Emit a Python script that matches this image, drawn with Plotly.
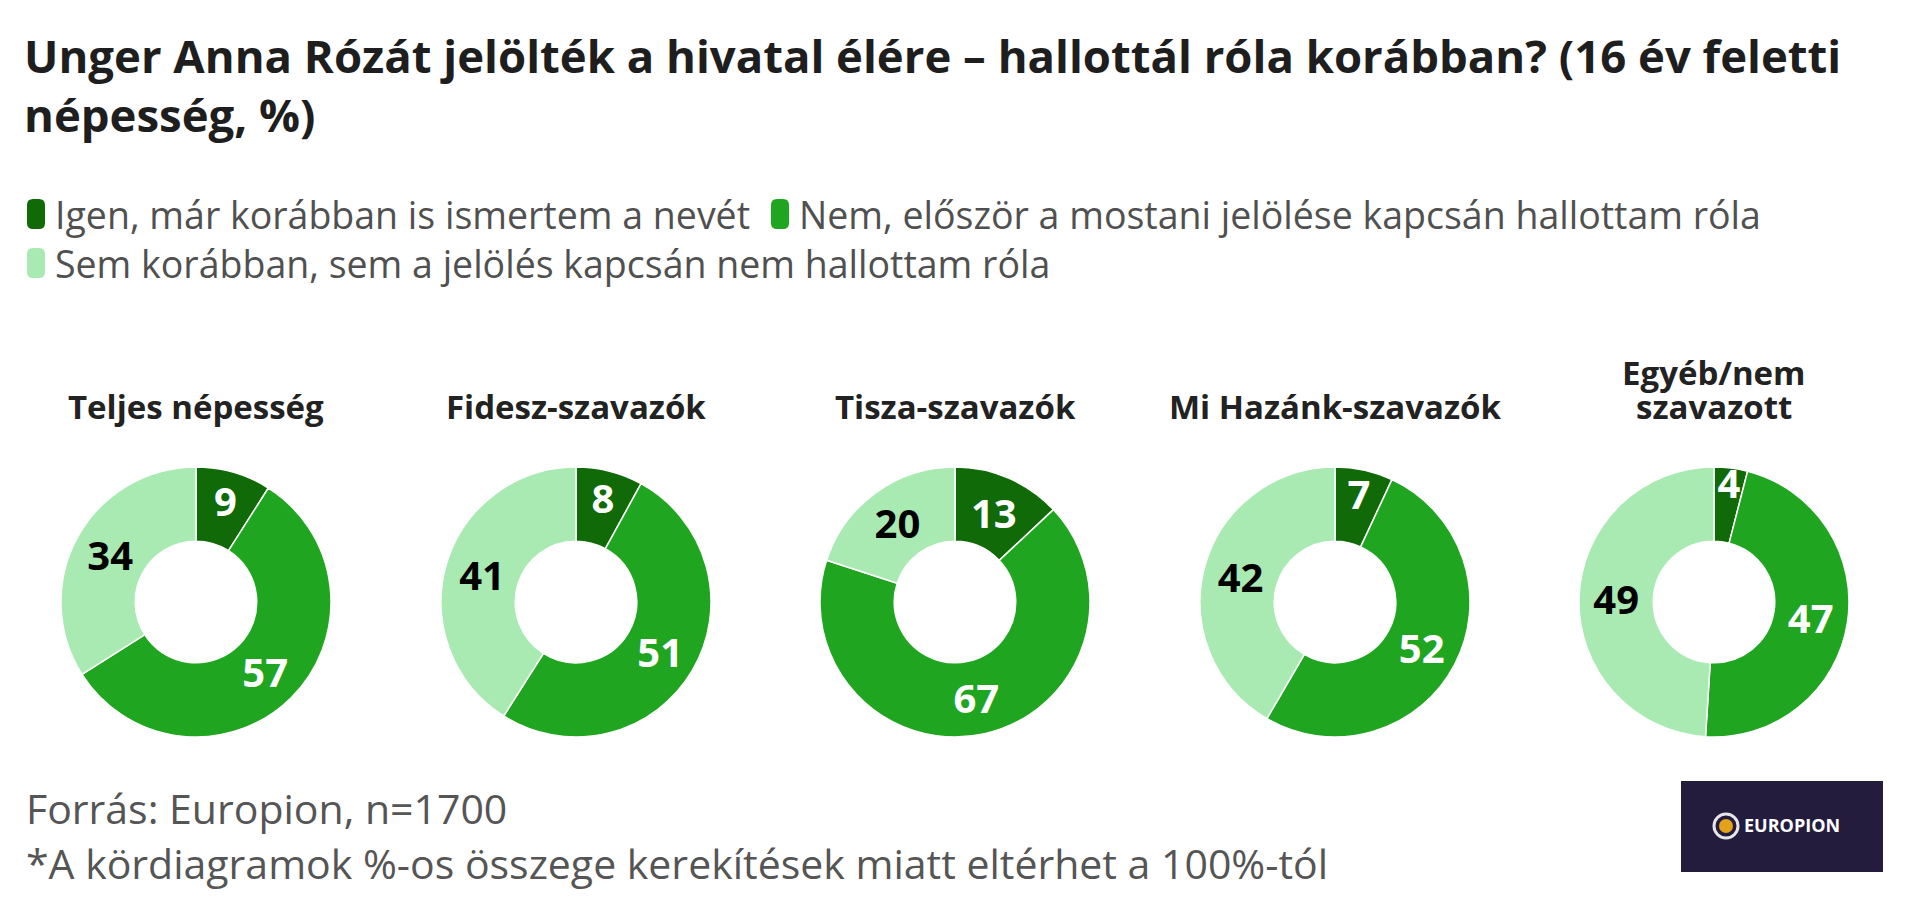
import plotly.graph_objects as go

# answer categories (legend)
answers = [
    "Igen, már korábban is ismertem a nevét",
    "Nem, először a mostani jelölése kapcsán hallottam róla",
    "Sem korábban, sem a jelölés kapcsán nem hallottam róla",
]
colors = ["#0f6a07", "#1fa51f", "#a9e9b2"]
text_colors = ["white", "white", "black"]

# groups (one donut each)
groups = ["Teljes népesség", "Fidesz-szavazók", "Tisza-szavazók",
          "Mi Hazánk-szavazók", "Egyéb/nem<br>szavazott"]

# % values per group: igen, nem, sem
igen = [9, 8, 13, 7, 4]
nem = [57, 51, 67, 52, 47]
sem = [34, 41, 20, 42, 49]

# page body has an 8px margin, so the figure is a bit smaller than the window
OFF = 8
W, H = 1920 - 2 * OFF, 913 - 2 * OFF
FONT = "Open Sans"


def px(x, y):
    # window pixel (from top-left) -> paper coords
    return (x - OFF) / W, 1 - (y - OFF) / H


def rounded_rect(x0, y0, x1, y1, rr):
    # path for a rounded rectangle given in pixels, returned in paper coords
    def p(x, y):
        a, b = px(x, y)
        return f"{a:.5f},{b:.5f}"
    pts = [
        "M" + p(x0 + rr, y0),
        "L" + p(x1 - rr, y0),
        "Q" + p(x1, y0) + " " + p(x1, y0 + rr),
        "L" + p(x1, y1 - rr),
        "Q" + p(x1, y1) + " " + p(x1 - rr, y1),
        "L" + p(x0 + rr, y1),
        "Q" + p(x0, y1) + " " + p(x0, y1 - rr),
        "L" + p(x0, y0 + rr),
        "Q" + p(x0, y0) + " " + p(x0 + rr, y0),
    ]
    return " ".join(pts) + " Z"


fig = go.Figure()

centers = [196, 576, 955, 1335, 1714]
r = 135
cy = 602
for i, g in enumerate(groups):
    c = centers[i]
    xa, yb = px(c - r, cy + r)
    xb, ya = px(c + r, cy - r)
    fig.add_trace(go.Pie(
        labels=answers,
        values=[igen[i], nem[i], sem[i]],
        marker=dict(colors=colors, line=dict(color="white", width=1.5)),
        hole=0.45,
        sort=False,
        direction="clockwise",
        rotation=0,
        textinfo="value",
        textposition="inside",
        insidetextorientation="horizontal",
        insidetextfont=dict(color=text_colors, family=FONT, size=40, weight="bold"),
        domain=dict(x=[xa, xb], y=[yb, ya]),
        showlegend=False,
        hoverinfo="label+value",
    ))
    # group name, one annotation per line so the line gap stays tight
    lines = g.split("<br>")
    for k, line in enumerate(reversed(lines)):
        ax, ay = px(c, 407 - 35 * k)
        fig.add_annotation(
            x=ax, y=ay, xref="paper", yref="paper",
            xanchor="center", yanchor="middle", showarrow=False,
            text=line, font=dict(family=FONT, size=33, color="#222222", weight="bold"),
        )

# legend drawn by hand: rounded swatches + labels
leg_pos = [(27, 214), (771, 214), (27, 263)]
for (lx, ly), lab, col in zip(leg_pos, answers, colors):
    fig.add_shape(type="path", xref="paper", yref="paper",
                  path=rounded_rect(lx, ly - 15, lx + 18, ly + 15, 6),
                  fillcolor=col, line=dict(width=0))
    tx, ty = px(lx + 26, ly)
    fig.add_annotation(x=tx, y=ty, xref="paper", yref="paper",
                       xanchor="left", yanchor="middle", showarrow=False,
                       text=lab, font=dict(family=FONT, size=37.5, color="#505050"))

# footer
for text, fy in [("Forrás: Europion, n=1700", 808),
                 ("*A kördiagramok %-os összege kerekítések miatt eltérhet a 100%-tól", 863)]:
    fx, fyp = px(24, fy)
    fig.add_annotation(x=fx, y=fyp, xref="paper", yref="paper",
                       xanchor="left", yanchor="middle", showarrow=False,
                       text=text, font=dict(family=FONT, size=41, color="#555555"))

# logo box
x0, y0 = px(1681, 872)
x1, y1 = px(1883, 781)
fig.add_shape(type="rect", xref="paper", yref="paper", x0=x0, x1=x1, y0=y0, y1=y1,
              fillcolor="#241c3d", line=dict(width=0), layer="above")
x0, y0 = px(1714, 838)
x1, y1 = px(1738, 814)
fig.add_shape(type="circle", xref="paper", yref="paper", x0=x0, x1=x1, y0=y0, y1=y1,
              fillcolor="#241c3d", line=dict(color="#e6e6e6", width=3), layer="above")
x0, y0 = px(1719, 833)
x1, y1 = px(1733, 819)
fig.add_shape(type="circle", xref="paper", yref="paper", x0=x0, x1=x1, y0=y0, y1=y1,
              fillcolor="#e3a21a", line=dict(width=0), layer="above")
lx, ly = px(1742, 825)
fig.add_annotation(x=lx, y=ly, xref="paper", yref="paper",
                   xanchor="left", yanchor="middle", showarrow=False,
                   text="EUROPION",
                   font=dict(family=FONT, size=18, color="white", weight="bold"))

tx, ty = px(24, 73)
fig.update_layout(
    width=W, height=H,
    margin=dict(l=0, r=0, t=0, b=0),
    paper_bgcolor="white",
    plot_bgcolor="white",
    showlegend=False,
    title=dict(
        text="Unger Anna Rózát jelölték a hivatal élére – hallottál róla korábban? (16 év feletti<br>népesség, %)",
        x=tx, y=ty, xref="paper", yref="paper",
        xanchor="left", yanchor="middle",
        font=dict(family=FONT, size=45.5, color="#1e1e1e", weight="bold"),
    ),
    uniformtext=dict(minsize=40, mode="show"),
)

fig.write_html("out.html")
